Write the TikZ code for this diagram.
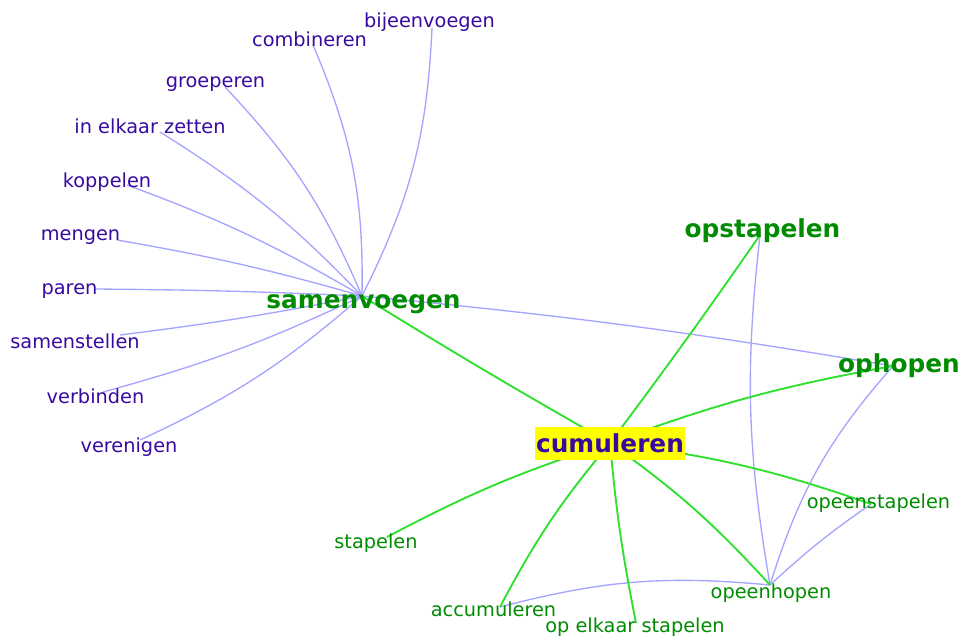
\documentclass[tikz,border=0pt]{standalone}
\usepackage{fontspec}
\setmainfont{DejaVu Sans}
\definecolor{purp}{RGB}{55,10,160}
\definecolor{grn}{RGB}{0,140,0}
\definecolor{bedge}{RGB}{165,165,255}
\definecolor{gedge}{RGB}{45,225,45}
\definecolor{hl}{RGB}{255,255,0}
\tikzset{
  lbl/.style={font=\fontsize{14.5}{16}\selectfont, inner sep=0pt, anchor=base},
  pur/.style={lbl, text=purp},
  grs/.style={lbl, text=grn},
  big/.style={font=\fontsize{18.6}{20}\selectfont\bfseries, inner sep=0pt, anchor=base, text=grn},
  hub/.style={font=\fontsize{18.6}{20}\selectfont\bfseries, inner sep=0pt, text=purp, fill=hl,
              minimum width=112.5pt, minimum height=24.75pt, text height=14pt, text depth=0pt},
  be/.style={draw=bedge, line width=1pt},
  ge/.style={draw=gedge, line width=1.4pt}
}
\begin{document}
\begin{tikzpicture}[x=0.75pt,y=-0.75pt]
\useasboundingbox (0,0) rectangle (962,635);
% edge end points
\coordinate (sv) at (362,296);
\coordinate (bij) at (432,28);
\coordinate (comb) at (313,45);
\coordinate (groep) at (225,87);
\coordinate (iez) at (160,132);
\coordinate (kop) at (127,185);
\coordinate (meng) at (117,240);
\coordinate (par) at (95,289);
\coordinate (samst) at (120,335);
\coordinate (verb) at (103,392);
\coordinate (veren) at (140,440);
\coordinate (opst) at (760,235);
\coordinate (oph) at (893,366);
\coordinate (cum) at (610,443);
\coordinate (opeenst) at (871,504);
\coordinate (opeenh) at (770,585);
\coordinate (stap) at (387,537);
\coordinate (acc) at (500,607);
\coordinate (oes) at (636,623);
% blue edges
\draw[be] (sv) to[bend right=12] (bij);
\draw[be] (sv) to[bend right=12] (comb);
\draw[be] (sv) to[bend right=10] (groep);
\draw[be] (sv) to[bend right=7] (iez);
\draw[be] (sv) to[bend right=5] (kop);
\draw[be] (sv) to[bend right=3] (meng);
\draw[be] (sv) to[bend right=1] (par);
\draw[be] (sv) to[bend left=2] (samst);
\draw[be] (sv) to[bend left=5] (verb);
\draw[be] (sv) to[bend left=8] (veren);
\draw[be] (sv) to[bend left=2] (oph);
\draw[be] (opst) to[bend right=8] (opeenh);
\draw[be] (oph) to[bend right=12] (opeenh);
\draw[be] (opeenst) to[bend right=4] (opeenh);
\draw[be] (acc) to[bend left=10] (opeenh);
% green edges
\draw[ge] (cum) to[bend left=1] (sv);
\draw[ge] (cum) to[bend right=1] (opst);
\draw[ge] (cum) to[bend left=5] (oph);
\draw[ge] (cum) to[bend left=6] (opeenst);
\draw[ge] (cum) to[bend left=6] (opeenh);
\draw[ge] (cum) to[bend right=3] (oes);
\draw[ge] (cum) to[bend right=6] (acc);
\draw[ge] (cum) to[bend right=5] (stap);
% labels
\node[pur] (bij-t) at (429.5,28) {bijeenvoegen};
\node[pur] (comb-t) at (309.5,46) {combineren};
\node[pur] (groep-t) at (215.5,87) {groeperen};
\node[pur] (iez-t) at (150,133) {in elkaar zetten};
\node[pur] (kop-t) at (107,187) {koppelen};
\node[pur] (meng-t) at (80.5,240) {mengen};
\node[pur] (par-t) at (69.5,294) {paren};
\node[pur] (samst-t) at (75,348) {samenstellen};
\node[pur] (verb-t) at (95.5,403) {verbinden};
\node[pur] (veren-t) at (129,452) {verenigen};
\node[big] (sv-t) at (363.5,308) {samenvoegen};
\node[big] (opst-t) at (762.5,237) {opstapelen};
\node[big] (oph-t) at (899,372) {ophopen};
\node[hub] (cum-t) at (610,443.5) {cumuleren};
\node[grs] (opeenst-t) at (878.5,508) {opeenstapelen};
\node[grs] (opeenh-t) at (771,598) {opeenhopen};
\node[grs] (stap-t) at (376,548) {stapelen};
\node[grs] (acc-t) at (493.5,616) {accumuleren};
\node[grs] (oes-t) at (635,632) {op elkaar stapelen};
\end{tikzpicture}
\end{document}
